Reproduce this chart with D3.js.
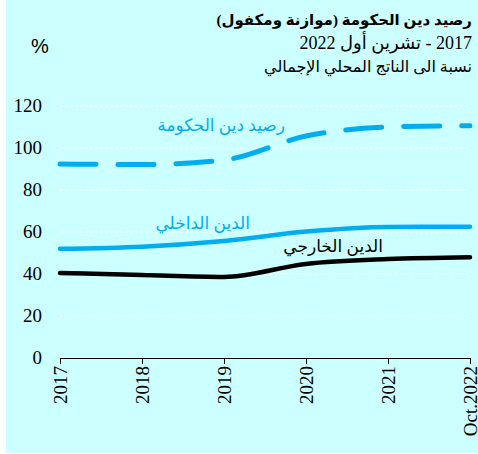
<!DOCTYPE html>
<html>
<head>
<meta charset="utf-8">
<script src="https://cdn.jsdelivr.net/npm/d3@7"></script>
<style>
  body { margin: 0; background: #fff; }
  svg { display: block; }
</style>
</head>
<body>
<script>
// data
const years = ["2017", "2018", "2019", "2020", "2021", "Oct.2022"];
const govDebt = [92.4, 92.1, 94.3, 105.7, 110.0, 110.6];
const domesticDebt = [52.0, 53.0, 55.7, 60.2, 62.4, 62.5];
const externalDebt = [40.5, 39.5, 38.6, 44.8, 47.1, 48.0];
const yTicks = [0, 20, 40, 60, 80, 100, 120];

const W = 478, H = 454;
const margin = { top: 106, right: 8, bottom: 96, left: 60 };
const cyan = "#00aeef";
const serif = "'Liberation Serif', 'Times New Roman', serif";
const arabic = "'Liberation Serif', 'DejaVu Sans', sans-serif";

const svg = d3.select("body").append("svg")
    .attr("width", W)
    .attr("height", H);

// panel background
svg.append("rect")
    .attr("x", 6).attr("y", 0)
    .attr("width", W - 6).attr("height", H - 1)
    .attr("fill", "#ccffff");

const x = d3.scalePoint()
    .domain(years)
    .range([margin.left, W - margin.right]);

const y = d3.scaleLinear()
    .domain([0, 120])
    .range([H - margin.bottom, margin.top]);

// grid lines
svg.append("g")
    .selectAll("line")
    .data(yTicks.filter(d => d > 0))
    .join("line")
    .attr("x1", margin.left)
    .attr("x2", W - margin.right)
    .attr("y1", d => y(d))
    .attr("y2", d => y(d))
    .attr("stroke", "#fff")
    .attr("stroke-width", 1)
    .attr("stroke-dasharray", "3,2");

// y labels (no axis line)
svg.append("g")
    .selectAll("text")
    .data(yTicks)
    .join("text")
    .attr("x", 42)
    .attr("y", d => y(d) + 6)
    .attr("text-anchor", "end")
    .style("font-family", serif)
    .style("font-size", "19px")
    .text(d => d);

// x axis
const xAxis = svg.append("g")
    .attr("transform", "translate(0," + y(0) + ")")
    .call(d3.axisBottom(x).tickSize(6).tickSizeOuter(0));
xAxis.select(".domain").attr("stroke", "#000");
xAxis.selectAll(".tick line").attr("stroke", "#000");
xAxis.selectAll(".tick text")
    .attr("transform", "rotate(-90)")
    .attr("x", -8)
    .attr("y", 0)
    .attr("dy", "0.35em")
    .attr("text-anchor", "end")
    .style("font-family", serif)
    .style("font-size", "19px")
    .attr("fill", "#000");

const line = d3.line()
    .x((d, i) => x(years[i]))
    .y(d => y(d))
    .curve(d3.curveMonotoneX);

svg.append("path")
    .datum(externalDebt)
    .attr("d", line)
    .attr("fill", "none")
    .attr("stroke", "#000")
    .attr("stroke-width", 4.5)
    .attr("stroke-linecap", "round");

svg.append("path")
    .datum(domesticDebt)
    .attr("d", line)
    .attr("fill", "none")
    .attr("stroke", cyan)
    .attr("stroke-width", 4.5)
    .attr("stroke-linecap", "round");

svg.append("path")
    .datum(govDebt)
    .attr("d", line)
    .attr("fill", "none")
    .attr("stroke", cyan)
    .attr("stroke-width", 5)
    .attr("stroke-linecap", "round")
    .attr("stroke-dasharray", "36,22");

// series labels (rtl: "start" puts the anchor at the right edge)
function seriesLabel(txt, xPos, yPos, color) {
    svg.append("text")
        .attr("x", xPos)
        .attr("y", yPos)
        .attr("text-anchor", "start")
        .attr("direction", "rtl")
        .attr("fill", color)
        .style("font-family", arabic)
        .style("font-size", "17px")
        .text(txt);
}
seriesLabel("رصيد دين الحكومة", x("2020") - 21, y(108), cyan);
seriesLabel("الدين الداخلي", x("2019") + 26, y(61.5), cyan);
seriesLabel("الدين الخارجي", x("2021") - 5, y(50.5), "#000");

// title block
const title = svg.append("g").style("font-family", arabic);
title.append("text")
    .attr("x", 472).attr("y", 25)
    .attr("text-anchor", "start")
    .attr("direction", "rtl")
    .style("font-size", "15px")
    .style("font-weight", "bold")
    .text("رصيد دين الحكومة (موازنة ومكفول)");
title.append("text")
    .attr("x", 472).attr("y", 49)
    .attr("text-anchor", "start")
    .attr("direction", "rtl")
    .style("font-size", "18px")
    .text("2017 - تشرين أول 2022");
title.append("text")
    .attr("x", 472).attr("y", 72)
    .attr("text-anchor", "start")
    .attr("direction", "rtl")
    .style("font-size", "16px")
    .text("نسبة الى الناتج المحلي الإجمالي");

svg.append("text")
    .attr("x", 31).attr("y", 53)
    .style("font-family", "'Liberation Sans', Arial, sans-serif")
    .style("font-size", "20px")
    .text("%");
</script>
</body>
</html>
